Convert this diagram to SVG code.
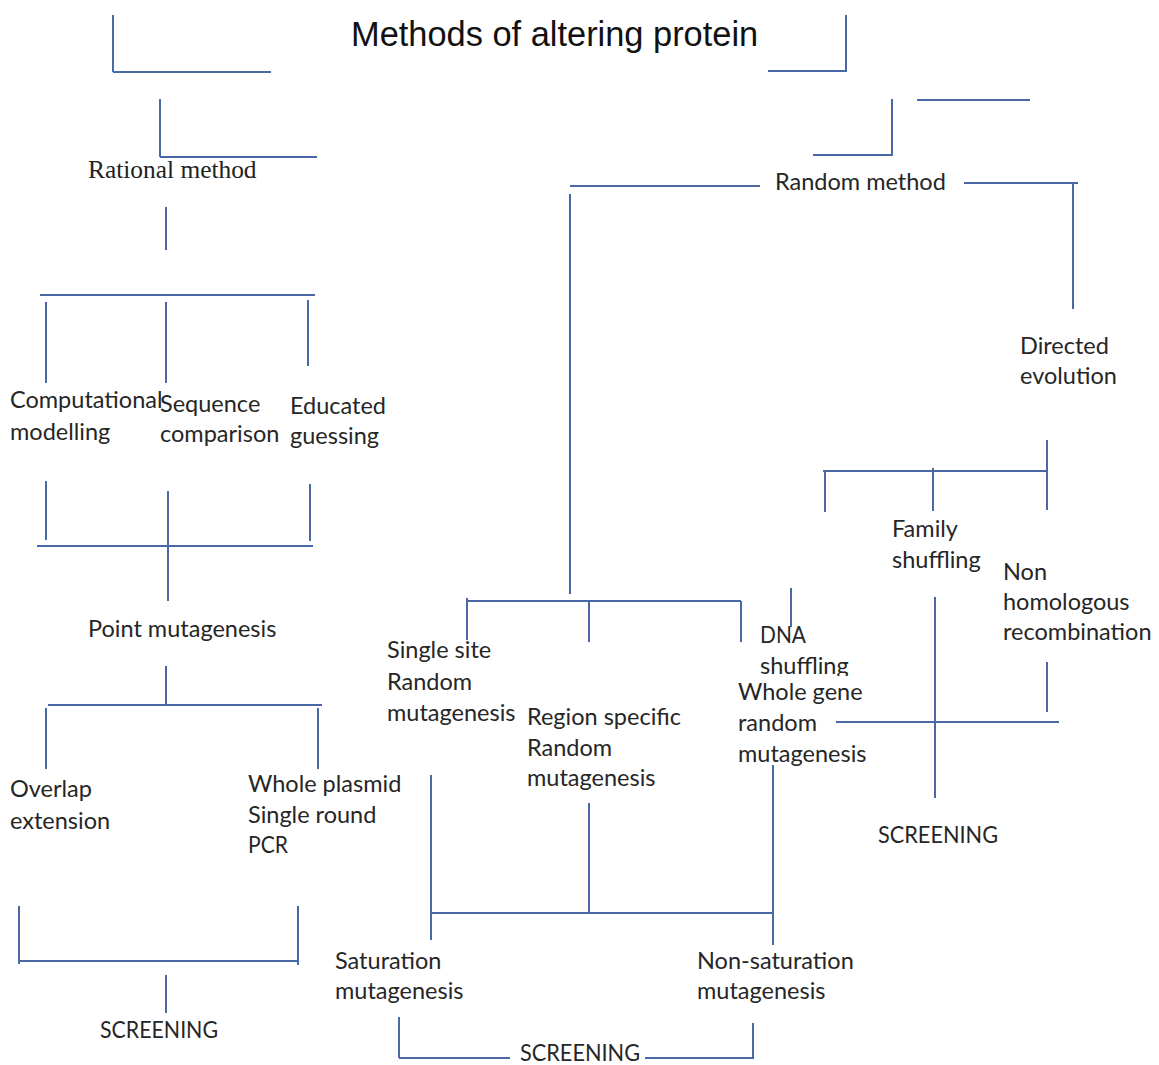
<svg xmlns="http://www.w3.org/2000/svg" width="1159" height="1065" viewBox="0 0 1159 1065">
<style>
.c line{stroke:#4a68a6;stroke-width:2;fill:none}
.t{font-family:Lato,"Open Sans",sans-serif;font-size:23.5px;fill:#262626}
.title{font-family:"Liberation Sans",Arial,sans-serif;font-size:34.4px;fill:#111}
.serif{font-family:"Liberation Serif","Times New Roman",serif;font-size:25.4px;fill:#222}
</style>
<defs><clipPath id="clipDNA"><rect x="740" y="620" width="120" height="56"/></clipPath></defs>
<rect width="1159" height="1065" fill="#fff"/>
<g id="connectors" class="c">
<line x1="113" y1="15" x2="113" y2="72"/><line x1="113" y1="72" x2="271" y2="72"/>
<line x1="846" y1="15" x2="846" y2="72"/><line x1="768" y1="71" x2="846" y2="71"/>
<line x1="160" y1="99" x2="160" y2="157"/><line x1="160" y1="157" x2="317" y2="157"/>
<line x1="892" y1="99" x2="892" y2="156"/><line x1="813" y1="155" x2="892" y2="155"/>
<line x1="917" y1="100" x2="1030" y2="100"/>
<line x1="166" y1="207" x2="166" y2="250"/>
<line x1="40" y1="295" x2="315" y2="295"/>
<line x1="46" y1="302" x2="46" y2="383"/><line x1="166" y1="302" x2="166" y2="383"/><line x1="308" y1="300" x2="308" y2="366"/>
<line x1="46" y1="481" x2="46" y2="540"/><line x1="168" y1="491" x2="168" y2="601"/><line x1="310" y1="484" x2="310" y2="541"/>
<line x1="37" y1="546" x2="313" y2="546"/>
<line x1="166" y1="666" x2="166" y2="706"/>
<line x1="48" y1="705" x2="322" y2="705"/>
<line x1="46" y1="708" x2="46" y2="769"/><line x1="318" y1="708" x2="318" y2="769"/>
<line x1="19" y1="906" x2="19" y2="964"/><line x1="298" y1="906" x2="298" y2="965"/><line x1="19" y1="961" x2="298" y2="961"/>
<line x1="166" y1="975" x2="166" y2="1013"/>
<line x1="570" y1="186" x2="760" y2="186"/><line x1="570" y1="194" x2="570" y2="594"/>
<line x1="964" y1="183" x2="1078" y2="183"/><line x1="1073" y1="183" x2="1073" y2="309"/>
<line x1="1047" y1="440" x2="1047" y2="510"/><line x1="823" y1="471" x2="1047" y2="471"/>
<line x1="825" y1="471" x2="825" y2="512"/><line x1="933" y1="468" x2="933" y2="511"/>
<line x1="935" y1="597" x2="935" y2="798"/><line x1="1047" y1="662" x2="1047" y2="712"/>
<line x1="836" y1="722" x2="1059" y2="722"/>
<line x1="791" y1="588" x2="791" y2="627"/>
<line x1="467" y1="601" x2="741" y2="601"/>
<line x1="467" y1="598" x2="467" y2="640"/><line x1="589" y1="601" x2="589" y2="642"/><line x1="741" y1="601" x2="741" y2="642"/>
<line x1="431" y1="775" x2="431" y2="940"/><line x1="589" y1="803" x2="589" y2="913"/><line x1="773" y1="765" x2="773" y2="945"/>
<line x1="431" y1="913" x2="773" y2="913"/>
<line x1="399" y1="1017" x2="399" y2="1058"/><line x1="399" y1="1058" x2="510" y2="1058"/>
<line x1="645" y1="1058" x2="754" y2="1058"/><line x1="753" y1="1023" x2="753" y2="1058"/>
</g>
<g id="title"><text class="title" x="351" y="46">Methods of altering protein</text></g>
<g id="rational"><text class="serif" x="88" y="178">Rational method</text></g>
<g id="random"><text class="t" x="775" y="190">Random method</text></g>
<g id="computational"><text class="t" x="10" y="408">Computational</text><text class="t" x="10" y="440">modelling</text></g>
<g id="sequence"><text class="t" x="160" y="412">Sequence</text><text class="t" x="160" y="442">comparison</text></g>
<g id="educated"><text class="t" x="290" y="414">Educated</text><text class="t" x="290" y="444">guessing</text></g>
<g id="point"><text class="t" x="88" y="637">Point mutagenesis</text></g>
<g id="overlap"><text class="t" x="10" y="797">Overlap</text><text class="t" x="10" y="829">extension</text></g>
<g id="wholeplasmid"><text class="t" x="248" y="792">Whole plasmid</text><text class="t" x="248" y="823">Single round</text><text class="t" x="248" y="853" textLength="40" lengthAdjust="spacingAndGlyphs">PCR</text></g>
<g id="screening1"><text class="t" x="100" y="1038" textLength="118" lengthAdjust="spacingAndGlyphs">SCREENING</text></g>
<g id="directed"><text class="t" x="1020" y="354">Directed</text><text class="t" x="1020" y="384">evolution</text></g>
<g id="family"><text class="t" x="892" y="537">Family</text><text class="t" x="892" y="568">shuffling</text></g>
<g id="nonhom"><text class="t" x="1003" y="580">Non</text><text class="t" x="1003" y="610">homologous</text><text class="t" x="1003" y="640">recombination</text></g>
<g id="screening3"><text class="t" x="878" y="843" textLength="120" lengthAdjust="spacingAndGlyphs">SCREENING</text></g>
<g id="dna"><text class="t" x="760" y="643" textLength="46" lengthAdjust="spacingAndGlyphs">DNA</text><text class="t" x="760" y="674" clip-path="url(#clipDNA)">shuffling</text></g>
<g id="wholegene"><text class="t" x="738" y="700">Whole gene</text><text class="t" x="738" y="731">random</text><text class="t" x="738" y="762">mutagenesis</text></g>
<g id="singlesite"><text class="t" x="387" y="658">Single site</text><text class="t" x="387" y="690">Random</text><text class="t" x="387" y="721">mutagenesis</text></g>
<g id="region"><text class="t" x="527" y="725">Region specific</text><text class="t" x="527" y="756">Random</text><text class="t" x="527" y="786">mutagenesis</text></g>
<g id="saturation"><text class="t" x="335" y="969">Saturation</text><text class="t" x="335" y="999">mutagenesis</text></g>
<g id="nonsat"><text class="t" x="697" y="969">Non-saturation</text><text class="t" x="697" y="999">mutagenesis</text></g>
<g id="screening2"><text class="t" x="520" y="1061" textLength="120" lengthAdjust="spacingAndGlyphs">SCREENING</text></g>
</svg>
